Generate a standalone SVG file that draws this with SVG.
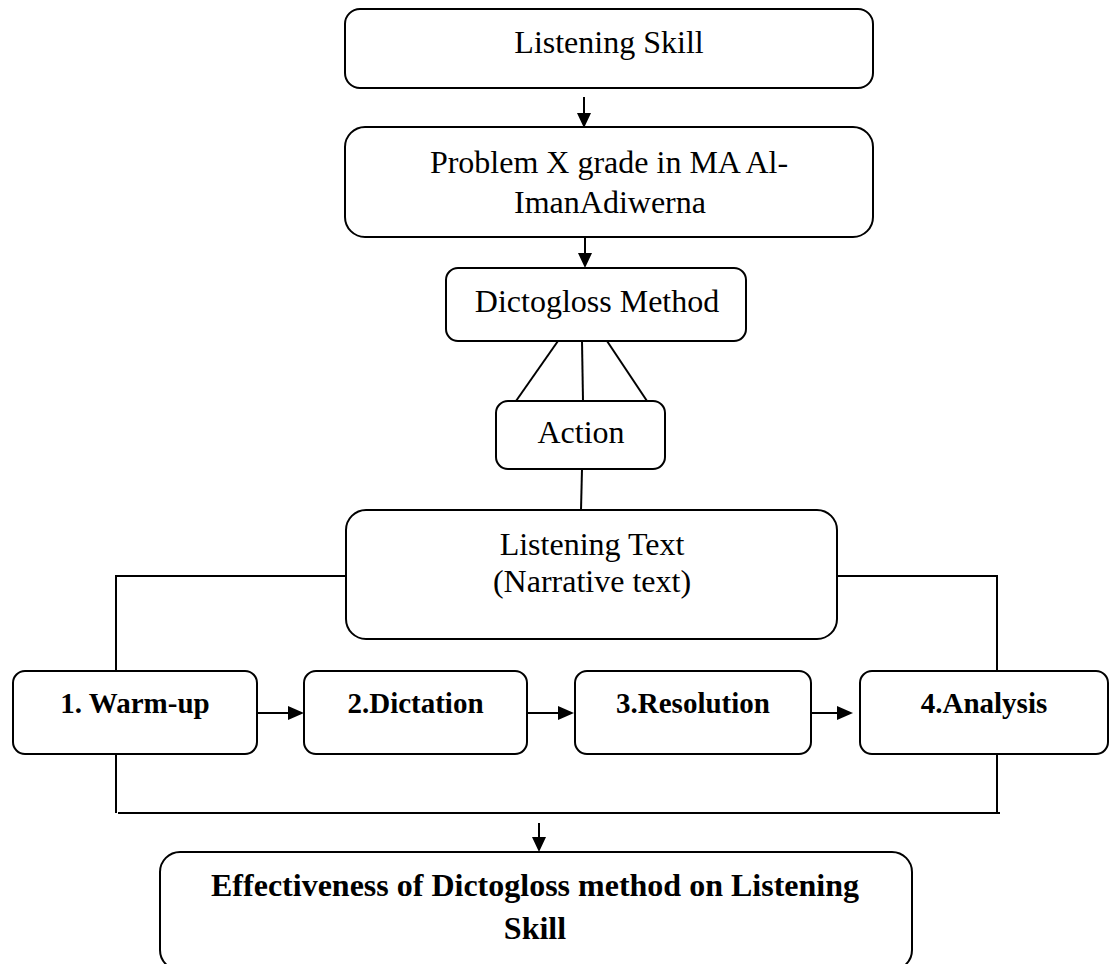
<svg xmlns="http://www.w3.org/2000/svg" width="1113" height="964" viewBox="0 0 1113 964">
<style>
.box{fill:#fff;stroke:#000;stroke-width:2}
.ln{fill:none;stroke:#000;stroke-width:2}
.t{font-family:"Liberation Serif","Times New Roman",serif;font-size:32px;fill:#000;text-anchor:middle}
.b{font-family:"Liberation Serif","Times New Roman",serif;font-size:29px;font-weight:bold;fill:#000;text-anchor:middle}
.bb{font-family:"Liberation Serif","Times New Roman",serif;font-size:32px;font-weight:bold;fill:#000;text-anchor:middle}
.ah{fill:#000}
</style>
<rect width="1113" height="964" fill="#fff"/>
<g id="connectors">
<line class="ln" x1="584" y1="97" x2="584" y2="114"/>
<polygon class="ah" points="577,113 591,113 584,128"/>
<line class="ln" x1="585" y1="237" x2="585" y2="254"/>
<polygon class="ah" points="578,253 592,253 585,268"/>
<line class="ln" x1="558" y1="341" x2="516" y2="401"/>
<line class="ln" x1="582" y1="341" x2="583" y2="401"/>
<line class="ln" x1="607" y1="341" x2="647" y2="401"/>
<line class="ln" x1="582" y1="469" x2="581" y2="510"/>
<polyline class="ln" points="346,576 116,576 116,671"/>
<polyline class="ln" points="837,576 997,576 997,671"/>
<line class="ln" x1="116" y1="754" x2="116" y2="813"/>
<line class="ln" x1="997" y1="754" x2="997" y2="813"/>
<line class="ln" x1="118" y1="813" x2="1000" y2="813"/>
<line class="ln" x1="257" y1="713" x2="289" y2="713"/>
<polygon class="ah" points="288,706 288,720 304,713"/>
<line class="ln" x1="527" y1="713" x2="559" y2="713"/>
<polygon class="ah" points="558,706 558,720 574,713"/>
<line class="ln" x1="811" y1="713" x2="838" y2="713"/>
<polygon class="ah" points="837,706 837,720 853,713"/>
<line class="ln" x1="539" y1="823" x2="539" y2="838"/>
<polygon class="ah" points="532,837 546,837 539,852"/>
</g>
<g id="listening-skill">
<rect class="box" x="345" y="9" width="528" height="79" rx="15"/>
<text class="t" x="609" y="53">Listening Skill</text>
</g>
<g id="problem">
<rect class="box" x="345" y="127" width="528" height="110" rx="20"/>
<text class="t" x="609" y="173">Problem X grade in MA Al-</text>
<text class="t" x="610" y="213">ImanAdiwerna</text>
</g>
<g id="dictogloss">
<rect class="box" x="446" y="268" width="300" height="73" rx="12"/>
<text class="t" x="597" y="312">Dictogloss Method</text>
</g>
<g id="action">
<rect class="box" x="496" y="401" width="169" height="68" rx="12"/>
<text class="t" x="581" y="443">Action</text>
</g>
<g id="listening-text">
<rect class="box" x="346" y="510" width="491" height="129" rx="20"/>
<text class="t" x="592" y="555">Listening Text</text>
<text class="t" x="592" y="592">(Narrative text)</text>
</g>
<g id="warmup">
<rect class="box" x="13" y="671" width="244" height="83" rx="12"/>
<text class="b" x="135" y="713">1. Warm-up</text>
</g>
<g id="dictation">
<rect class="box" x="304" y="671" width="223" height="83" rx="12"/>
<text class="b" x="415.5" y="713">2.Dictation</text>
</g>
<g id="resolution">
<rect class="box" x="575" y="671" width="236" height="83" rx="12"/>
<text class="b" x="693" y="713">3.Resolution</text>
</g>
<g id="analysis">
<rect class="box" x="860" y="671" width="248" height="83" rx="12"/>
<text class="b" x="984" y="713">4.Analysis</text>
</g>
<g id="effectiveness">
<rect class="box" x="160" y="852" width="752" height="118" rx="20"/>
<text class="bb" x="535" y="896">Effectiveness of Dictogloss method on Listening</text>
<text class="bb" x="535" y="939">Skill</text>
</g>
</svg>
